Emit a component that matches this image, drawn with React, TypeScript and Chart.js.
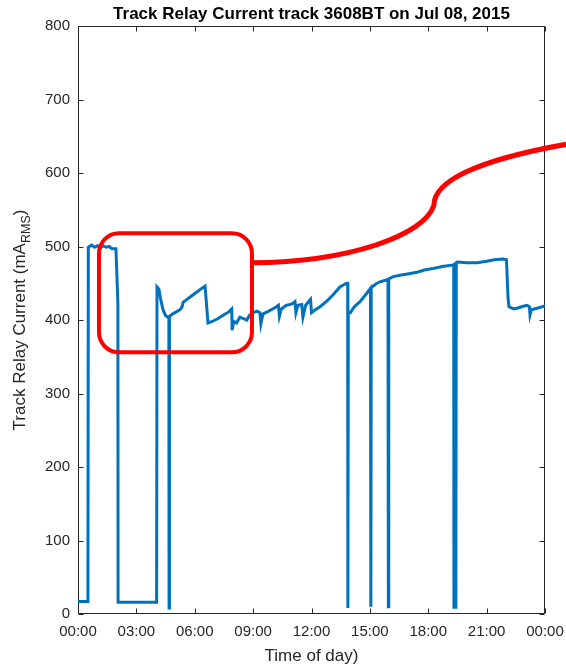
import React, { useEffect, useRef } from 'react';
import { Chart, registerables } from 'chart.js';

Chart.register(...registerables);

const TITLE = 'Track Relay Current track 3608BT on Jul 08, 2015';
const X_LABEL = 'Time of day)';
const Y_LABEL_MAIN = 'Track Relay Current (mA';
const Y_LABEL_SUB = 'RMS';
const Y_LABEL_END = ')';

const xTickLabels = ['00:00', '03:00', '06:00', '09:00', '12:00', '15:00', '18:00', '21:00', '00:00'];
const yTickValues = [0, 100, 200, 300, 400, 500, 600, 700, 800];

// time of day (hours) and track relay current (mA RMS)
const hours = [
  0, 0.51, 0.53, 0.7, 0.85, 1.0, 1.15, 1.3, 1.45, 1.6, 1.75, 1.95, 2.05, 2.06,
  3.0, 4.04, 4.06, 4.16, 4.25, 4.37, 4.5, 4.6, 4.67, 4.68, 4.7, 4.85, 4.98, 5.24, 5.35, 5.4,
  5.6, 5.85, 6.11, 6.3, 6.53, 6.68, 6.9, 7.2, 7.5, 7.75, 7.9, 7.92, 8.0, 8.15, 8.32, 8.5,
  8.68, 8.8, 9.0, 9.2, 9.35, 9.4, 9.5, 9.8, 10.0, 10.2, 10.3, 10.35, 10.45, 10.7, 11.0,
  11.15, 11.2, 11.3, 11.5, 11.56, 11.7, 11.95, 12.0, 12.2, 12.44, 12.8, 13.1, 13.46, 13.8,
  13.86, 13.87, 13.89, 14.0, 14.2, 14.49, 14.8, 15.03, 15.05, 15.07, 15.3, 15.52, 15.93,
  15.95, 15.97, 16.2, 16.55, 17.0, 17.42, 17.8, 18.24, 18.8, 19.31, 19.32, 19.34, 19.41,
  19.42, 19.44, 19.5, 20.0, 20.5, 21.0, 21.4, 21.84, 22.02, 22.1, 22.15, 22.4, 22.56, 22.8,
  23.07, 23.2, 23.23, 23.3, 23.59, 24.0,
];
const currents = [
  17, 17, 499, 502, 499, 501, 498, 501, 499, 500, 497, 497, 423, 16,
  16, 16, 445, 442, 428, 414, 406, 404, 404, 8, 405, 408, 410, 414, 418, 424,
  428, 433, 438, 442, 446, 396, 398, 402, 407, 411, 415, 386, 398, 396, 404, 402,
  400, 406, 410, 412, 410, 395, 408, 412, 415, 418, 420, 405, 415, 420, 422,
  425, 410, 420, 421, 404, 420, 428, 410, 414, 418, 426, 434, 445, 450,
  450, 8, 410, 410, 418, 425, 435, 443, 10, 444, 449, 452, 455,
  10, 456, 459, 461, 463, 465, 468, 470, 473, 475, 7, 476, 476,
  7, 478, 479, 478, 478, 480, 482, 483, 482, 430, 418, 415, 416, 418,
  420, 418, 407, 414, 416, 419,
];

// red highlight annotation, in data coordinates (hours, mA)
const boxHours = [1.08, 8.94];
const boxCurrents = [356, 518];
const calloutHours = [8.94, 13.98, 17.83, 18.29, 18.29, 20.66, 25.08];
const calloutCurrents = [478, 479, 516, 556, 590, 618, 639];

const FONT = "'Liberation Sans', Arial, Helvetica, sans-serif";
const TEXT = '#262626';

const matlabPlugin = {
  id: 'matlabAxes',
  beforeDatasetsDraw(chart: any) {
    const { ctx, chartArea } = chart;
    const xs = chart.scales.x;
    const ys = chart.scales.y;
    const l = Math.round(chartArea.left) + 0.5;
    const r = Math.round(chartArea.right) - 0.5;
    const t = Math.round(chartArea.top) + 0.5;
    const b = Math.round(chartArea.bottom) - 0.5;
    ctx.save();
    ctx.strokeStyle = TEXT;
    ctx.lineWidth = 1;
    ctx.beginPath();
    ctx.rect(l, t, r - l, b - t);
    const tl = 5;
    xTickLabels.forEach((_, i) => {
      const px = Math.round(xs.getPixelForValue(i * 3)) + 0.5;
      ctx.moveTo(px, b);
      ctx.lineTo(px, b - tl);
      ctx.moveTo(px, t);
      ctx.lineTo(px, t + tl);
    });
    yTickValues.forEach((v) => {
      const py = Math.round(ys.getPixelForValue(v)) + 0.5;
      ctx.moveTo(l, py);
      ctx.lineTo(l + tl, py);
      ctx.moveTo(r, py);
      ctx.lineTo(r - tl, py);
    });
    ctx.stroke();
    ctx.restore();
  },
  afterDatasetsDraw(chart: any) {
    const { ctx } = chart;
    const xs = chart.scales.x;
    const ys = chart.scales.y;
    const X = (h: number) => xs.getPixelForValue(h);
    const Y = (v: number) => ys.getPixelForValue(v);
    ctx.save();
    ctx.strokeStyle = '#FF0000';
    const bx1 = X(boxHours[0]);
    const bx2 = X(boxHours[1]);
    const by1 = Y(boxCurrents[1]);
    const by2 = Y(boxCurrents[0]);
    ctx.lineWidth = 4;
    ctx.beginPath();
    ctx.roundRect(bx1, by1, bx2 - bx1, by2 - by1, 20);
    ctx.stroke();
    const p = calloutHours.map((h, i) => [X(h), Y(calloutCurrents[i])]);
    ctx.lineWidth = 5;
    ctx.lineCap = 'butt';
    ctx.beginPath();
    ctx.moveTo(p[0][0], p[0][1]);
    ctx.bezierCurveTo(p[1][0], p[1][1], p[2][0], p[2][1], p[3][0], p[3][1]);
    ctx.bezierCurveTo(p[4][0], p[4][1], p[5][0], p[5][1], p[6][0], p[6][1]);
    ctx.stroke();
    ctx.restore();
  },
  afterDraw(chart: any) {
    const { ctx, chartArea } = chart;
    const cx = (chartArea.left + chartArea.right) / 2;
    const cy = (chartArea.top + chartArea.bottom) / 2;
    ctx.save();
    ctx.fillStyle = '#000000';
    ctx.font = `bold 17px ${FONT}`;
    ctx.textAlign = 'center';
    ctx.textBaseline = 'alphabetic';
    ctx.fillText(TITLE, cx, 19);
    ctx.fillStyle = TEXT;
    ctx.font = `17px ${FONT}`;
    ctx.fillText(X_LABEL, cx, 661);
    ctx.translate(25, cy);
    ctx.rotate(-Math.PI / 2);
    ctx.textAlign = 'left';
    const mainFont = `17px ${FONT}`;
    const subFont = `12.5px ${FONT}`;
    ctx.font = mainFont;
    const w1 = ctx.measureText(Y_LABEL_MAIN).width;
    const w3 = ctx.measureText(Y_LABEL_END).width;
    ctx.font = subFont;
    const w2 = ctx.measureText(Y_LABEL_SUB).width;
    const total = w1 + w2 + w3;
    let x0 = -total / 2;
    ctx.font = mainFont;
    ctx.fillText(Y_LABEL_MAIN, x0, 0);
    x0 += w1;
    ctx.font = subFont;
    ctx.fillText(Y_LABEL_SUB, x0, 5);
    x0 += w2;
    ctx.font = mainFont;
    ctx.fillText(Y_LABEL_END, x0, 0);
    ctx.restore();
  },
};

export default function App() {
  const canvasRef = useRef<HTMLCanvasElement | null>(null);

  useEffect(() => {
    if (!canvasRef.current) return;
    const data = hours.map((h, i) => ({ x: h, y: currents[i] }));
    const chart = new Chart(canvasRef.current, {
      type: 'line',
      data: {
        datasets: [
          {
            data,
            borderColor: '#0072BD',
            borderWidth: 3,
            pointRadius: 0,
            tension: 0,
            fill: false,
          },
        ],
      },
      options: {
        animation: false,
        responsive: false,
        devicePixelRatio: 1,
        layout: { padding: { top: 26, right: 21, left: 0, bottom: 0 } },
        plugins: {
          legend: { display: false },
          tooltip: { enabled: false },
          title: { display: false },
        },
        scales: {
          x: {
            type: 'linear',
            min: 0,
            max: 24,
            grid: { display: false, drawTicks: false },
            border: { display: false },
            ticks: {
              stepSize: 3,
              autoSkip: false,
              maxRotation: 0,
              padding: 9,
              color: TEXT,
              font: { family: FONT, size: 15 },
              callback: (v: any) => xTickLabels[Math.round(Number(v) / 3)] ?? '',
            },
            afterFit: (s: any) => {
              s.height = 52;
              s.paddingLeft = 0;
              s.paddingRight = 0;
            },
          },
          y: {
            type: 'linear',
            min: 0,
            max: 800,
            grid: { display: false, drawTicks: false },
            border: { display: false },
            ticks: {
              stepSize: 100,
              padding: 8,
              color: TEXT,
              font: { family: FONT, size: 15 },
            },
            afterFit: (s: any) => {
              s.width = 78;
              s.paddingTop = 0;
              s.paddingBottom = 0;
            },
          },
        },
      },
      plugins: [matlabPlugin],
    });
    return () => chart.destroy();
  }, []);

  return (
    <div style={{ position: 'fixed', left: 0, top: 0, width: 566, height: 666, background: '#fff' }}>
      <canvas ref={canvasRef} width={566} height={666} style={{ display: 'block' }} />
    </div>
  );
}
